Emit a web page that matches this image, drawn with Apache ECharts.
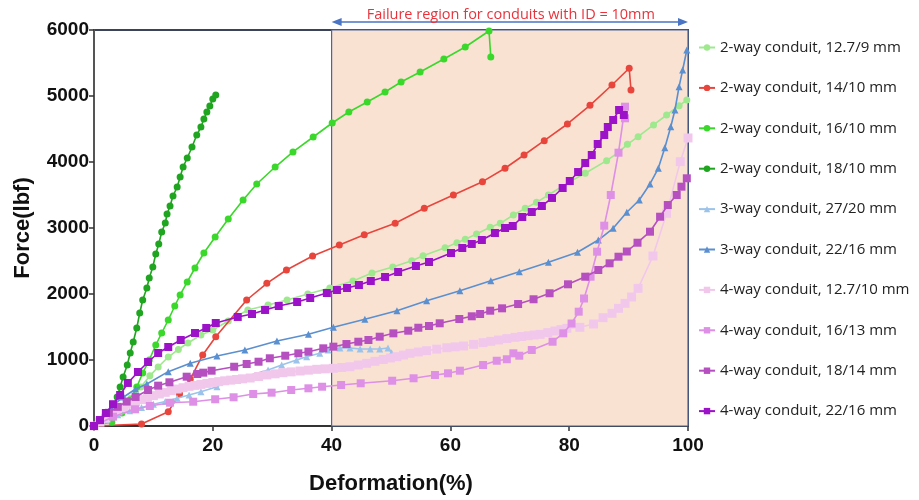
<!DOCTYPE html>
<html>
<head>
<meta charset="utf-8">
<script src="https://cdn.jsdelivr.net/npm/echarts@6/dist/echarts.min.js"></script>
<style>
  html, body { margin: 0; padding: 0; background: #ffffff; }
  #chart { width: 919px; height: 500px; }
</style>
</head>
<body>
<div id="chart"></div>
<script>
// Force–deformation curves of conduit crush tests: [deformation %, force lbf]
const seriesNames = [
  '2-way conduit, 12.7/9 mm',
  '2-way conduit, 14/10 mm',
  '2-way conduit, 16/10 mm',
  '2-way conduit, 18/10 mm',
  '3-way conduit, 27/20 mm',
  '3-way conduit, 22/16 mm',
  '4-way conduit, 12.7/10 mm',
  '4-way conduit, 16/13 mm',
  '4-way conduit, 18/14 mm',
  '4-way conduit, 22/16 mm'
];

const twoWay_12_7_9 = [
  [0,0],[1.5,80],[3,180],[4.6,290],[6.2,420],[7.9,591],[9.4,760],[10.8,894],[12.5,1045],[14.2,1160],
  [15.8,1258],[18.0,1379],[20.0,1455],[22.6,1590],[25.9,1758],[29.3,1833],[32.5,1909],[36.0,2000],
  [39.7,2091],[43.6,2197],[46.8,2318],[50.3,2409],[53.5,2505],[55.4,2580],[59.1,2702],[61.1,2777],
  [62.5,2829],[64.4,2909],[66.7,3011],[68.4,3071],[70.6,3197],[72.6,3298],[74.5,3389],[76.5,3500],
  [80.1,3702],[82.7,3829],[86.3,4020],[88.3,4147],[89.8,4268],[91.6,4383],[94.2,4561],[96.4,4712],
  [98.5,4853],[99.8,4939]
];
const twoWay_14_10 = [
  [0,0],[8.0,30],[12.5,217],[14.4,485],[16.2,707],[18.3,1076],[20.5,1353],[25.7,1909],[29.1,2162],
  [32.4,2364],[36.8,2576],[41.3,2742],[45.5,2899],[50.7,3071],[55.6,3300],[60.5,3500],[65.4,3702],
  [69.2,3905],[72.4,4106],[75.8,4323],[79.7,4576],[83.5,4859],[87.2,5167],[90.1,5420],[90.4,5091]
];
const twoWay_16_10 = [
  [0,0],[3.0,61],[4.7,197],[6.1,394],[7.2,591],[8.2,803],[9.3,1000],[10.4,1227],[11.4,1409],[12.5,1606],
  [13.6,1818],[14.5,1985],[15.7,2182],[17.0,2394],[18.5,2621],[20.4,2864],[22.6,3136],[25.1,3424],
  [27.4,3667],[30.5,3924],[33.5,4152],[36.9,4379],[40.1,4591],[42.9,4758],[46.0,4909],[49.0,5061],
  [51.7,5212],[54.9,5364],[58.9,5561],[62.5,5742],[66.5,5985],[66.8,5591]
];
const twoWay_18_10 = [
  [0,0],[2.7,136],[3.2,288],[3.9,439],[4.4,591],[4.9,742],[5.6,924],[6.1,1106],[6.6,1273],[7.2,1485],
  [7.7,1712],[8.2,1909],[8.9,2091],[9.3,2242],[9.9,2409],[10.4,2606],[10.9,2758],[11.4,2939],
  [12.0,3076],[12.3,3212],[12.8,3333],[13.3,3485],[14.0,3621],[14.5,3773],[15.0,3924],[15.7,4061],
  [16.5,4227],[17.3,4409],[18.0,4530],[18.5,4652],[19.0,4758],[19.5,4848],[20.0,4955],[20.5,5015]
];
const threeWay_27_20 = [
  [0,0],[2,90],[4,170],[6,230],[8,280],[10,330],[12,370],[14,420],[16,470],[18,520],[20.7,595],
  [22.6,697],[24.6,727],[29.3,848],[31.6,924],[34.1,1000],[35.8,1050],[38.0,1101],[39.4,1152],
  [41.4,1182],[43.1,1182],[44.8,1167],[46.5,1167],[48.1,1167],[49.5,1182],[50.1,1111]
];
const threeWay_22_16 = [
  [0,0],[1.5,150],[3,300],[5,440],[7,560],[8.9,636],[12.5,823],[16.2,950],[20.7,1061],[25.4,1152],
  [30.8,1288],[36.1,1389],[40.3,1495],[45.6,1617],[51.0,1747],[56.0,1898],[61.6,2050],[66.8,2202],
  [71.6,2338],[76.5,2480],[81.4,2632],[84.9,2818],[87.4,2995],[89.7,3238],[91.8,3424],[93.6,3667],
  [95.0,3904],[96.1,4217],[97.1,4535],[97.8,4788],[98.5,5141],[99.1,5394],[99.8,5697]
];
const fourWay_12_7_10 = [
  [0,0],[1,60],[2,120],[3,175],[4,230],[5,280],[6,330],[7,365],[8,400],[9,430],[10,460],[11,485],
  [12,510],[13,535],[14,560],[15,580],[16,600],[17,615],[18,630],[19,645],[20,660],[21,672],[22,685],
  [23,695],[24,705],[25,715],[26.3,727],[27.7,750],[29.1,773],[30.5,790],[31.8,808],[33.2,820],
  [34.7,833],[36.1,846],[37.5,859],[38.9,866],[40.3,874],[41.7,886],[43.1,898],[44.5,924],[45.9,950],
  [47.3,980],[48.7,1008],[49.9,1030],[51.0,1050],[52.1,1075],[53.2,1101],[54.6,1121],[56.0,1141],
  [57.7,1165],[59.4,1186],[60.8,1199],[62.2,1212],[63.9,1237],[65.5,1262],[66.8,1283],[68.1,1303],
  [69.5,1324],[70.9,1344],[72.0,1356],[73.1,1368],[74.1,1379],[75.1,1389],[76.4,1414],[77.6,1439],
  [78.6,1460],[79.6,1480],[81.8,1495],[84.1,1545],[85.7,1641],[87.2,1708],[88.3,1783],[89.4,1859],
  [90.5,1955],[91.6,2086],[94.1,2576],[96.4,3222],[98.7,4005],[100,4364]
];
const fourWay_16_13 = [
  [0,0],[3.2,141],[6.9,253],[9.4,303],[12.8,353],[16.7,368],[20.4,405],[23.5,435],[26.8,485],[29.9,505],
  [33.2,545],[36.1,571],[38.4,595],[41.6,621],[44.9,647],[50.2,686],[53.8,723],[57.4,773],[59.6,798],
  [61.6,838],[65.5,924],[67.8,989],[69.5,1011],[70.6,1101],[71.6,1065],[73.7,1152],[77.2,1277],
  [79.0,1404],[80.4,1553],[81.6,1732],[82.5,1932],[83.6,2262],[84.7,2641],[85.9,3035],[87.0,3500],
  [88.3,4141],[89.4,4838],[89.4,4662]
];
const fourWay_18_14 = [
  [0,0],[1,90],[2.5,200],[4,290],[5.5,370],[7,440],[9.1,545],[10.8,611],[12.7,662],[15.6,747],[17.4,788],
  [18.4,808],[19.8,838],[23.6,898],[25.7,939],[27.7,974],[29.6,1026],[32.2,1065],[34.4,1101],[36.1,1126],
  [38.6,1177],[40.3,1202],[42.5,1242],[44.5,1277],[46.2,1303],[48.1,1353],[50.4,1404],[52.9,1444],
  [54.6,1489],[56.4,1515],[58.2,1556],[61.5,1621],[63.6,1662],[65.0,1697],[66.7,1747],[68.7,1783],
  [71.4,1848],[74.0,1920],[76.7,2011],[79.8,2147],[82.7,2262],[84.9,2364],[86.8,2465],[88.3,2565],
  [89.7,2644],[91.5,2777],[93.6,2944],[95.3,3171],[96.6,3348],[98.1,3500],[98.9,3626],[99.8,3753]
];
const fourWay_22_16 = [
  [0,0],[1,90],[2.0,197],[3.2,330],[4.4,470],[5.7,652],[7.4,818],[9.1,970],[10.8,1106],[12.5,1197],
  [14.6,1303],[17.0,1409],[18.9,1485],[20.5,1561],[24.2,1652],[26.6,1697],[28.8,1758],[31.1,1818],
  [34.2,1879],[36.4,1939],[39.2,2015],[40.9,2061],[42.6,2091],[44.6,2136],[46.6,2197],[49.0,2258],
  [51.2,2333],[54.2,2424],[56.4,2485],[60.1,2621],[62.0,2697],[63.6,2758],[65.3,2818],[67.5,2924],
  [69.2,3000],[70.5,3030],[72.1,3167],[73.7,3242],[75.4,3333],[77.1,3455],[78.9,3606],[80.1,3712],
  [81.5,3848],[82.7,3985],[83.8,4106],[84.8,4273],[85.9,4409],[86.5,4530],[87.4,4636],[88.4,4788],
  [89.2,4712]
];

const seriesData = [
  twoWay_12_7_9, twoWay_14_10, twoWay_16_10, twoWay_18_10, threeWay_27_20,
  threeWay_22_16, fourWay_12_7_10, fourWay_16_13, fourWay_18_14, fourWay_22_16
];
const seriesColors = [
  '#9ee88e', '#e8453c', '#3ad82a', '#1fa51f', '#9cc3ea',
  '#5a8fd0', '#f1c8ec', '#de8fe6', '#b64fc0', '#9b12c9'
];
const seriesSymbols = [
  'circle', 'circle', 'circle', 'circle', 'triangle',
  'triangle', 'rect', 'rect', 'rect', 'rect'
];
const symbolSizes = [7, 7, 7, 7, 7, 7, 9, 8, 8, 8];

const xTicks = [0, 20, 40, 60, 80, 100];
const yTicks = [0, 1000, 2000, 3000, 4000, 5000, 6000];
const failureRange = [40, 100];

const chart = echarts.init(document.getElementById('chart'), null, { renderer: 'canvas' });

const axisFont = '"Liberation Sans", Arial, sans-serif';
const textFont = '"Open Sans", "Noto Sans", sans-serif';

const series = seriesNames.map((name, i) => ({
  name: name,
  type: 'line',
  data: seriesData[i],
  symbol: seriesSymbols[i],
  symbolSize: symbolSizes[i],
  showAllSymbol: true,
  clip: false,
  z: 3 + i,
  lineStyle: { color: seriesColors[i], width: 1.6 },
  itemStyle: { color: seriesColors[i] },
  emphasis: { disabled: true }
}));

// shaded failure region
series[0].markArea = {
  silent: true,
  z: 1,
  itemStyle: { color: '#fae2d3', borderColor: '#4b6799', borderWidth: 1.2 },
  data: [[{ xAxis: failureRange[0], yAxis: yTicks[0] }, { xAxis: failureRange[1], yAxis: yTicks[yTicks.length - 1] }]]
};

chart.setOption({
  animation: false,
  backgroundColor: '#ffffff',
  grid: {
    left: 94, right: 231, top: 30, bottom: 74,
    show: true, borderColor: '#3c4258', borderWidth: 2, backgroundColor: 'transparent'
  },
  legend: {
    orient: 'vertical',
    left: 693, top: 35,
    itemGap: 25.4,
    itemWidth: 16, itemHeight: 8,
    textStyle: { fontFamily: textFont, fontSize: 15, color: '#222' },
    data: seriesNames
  },
  xAxis: {
    type: 'value',
    min: xTicks[0], max: xTicks[xTicks.length - 1], interval: 20,
    name: 'Deformation(%)',
    nameLocation: 'middle', nameGap: 47,
    nameTextStyle: { fontFamily: axisFont, fontWeight: 'bold', fontSize: 22, color: '#111' },
    axisLine: { show: true, lineStyle: { color: '#333', width: 2 } },
    axisTick: { show: true, inside: false, length: 5, lineStyle: { color: '#333', width: 1.5 } },
    axisLabel: { fontFamily: axisFont, fontWeight: 'bold', fontSize: 19, color: '#111', margin: 10 },
    splitLine: { show: false }
  },
  yAxis: {
    type: 'value',
    min: yTicks[0], max: yTicks[yTicks.length - 1], interval: 1000,
    name: 'Force(lbf)',
    nameLocation: 'middle', nameGap: 60,
    nameRotate: 90,
    nameTextStyle: { fontFamily: axisFont, fontWeight: 'bold', fontSize: 22, color: '#111' },
    axisLine: { show: true, lineStyle: { color: '#555', width: 2 } },
    axisTick: { show: true, inside: false, length: 5, lineStyle: { color: '#333', width: 1.5 } },
    axisLabel: {
      fontFamily: axisFont, fontWeight: 'bold', fontSize: 19, color: '#111', margin: 5,
      formatter: v => String(v)
    },
    splitLine: { show: false }
  },
  series: series
});

// annotation above the failure region: double-headed arrow and caption
function drawAnnotation() {
  const xa = chart.convertToPixel({ xAxisIndex: 0 }, failureRange[0]);
  const xb = chart.convertToPixel({ xAxisIndex: 0 }, failureRange[1]);
  const yTop = chart.convertToPixel({ yAxisIndex: 0 }, yTicks[yTicks.length - 1]);
  const ay = yTop - 8;
  chart.setOption({
    graphic: [
      { type: 'line', shape: { x1: xa + 6, y1: ay, x2: xb - 6, y2: ay }, style: { stroke: '#4a74c4', lineWidth: 1.3 }, silent: true },
      { type: 'polygon', shape: { points: [[xa, ay], [xa + 10, ay - 4], [xa + 10, ay + 4]] }, style: { fill: '#4a74c4' }, silent: true },
      { type: 'polygon', shape: { points: [[xb, ay], [xb - 10, ay - 4], [xb - 10, ay + 4]] }, style: { fill: '#4a74c4' }, silent: true },
      { type: 'text', x: (xa + xb) / 2 + 1, y: ay, silent: true,
        style: { text: 'Failure region for conduits with ID = 10mm', fill: '#e8333c',
                 font: '14.5px ' + textFont, align: 'center', verticalAlign: 'bottom' } }
    ]
  });
}
drawAnnotation();
</script>
</body>
</html>
